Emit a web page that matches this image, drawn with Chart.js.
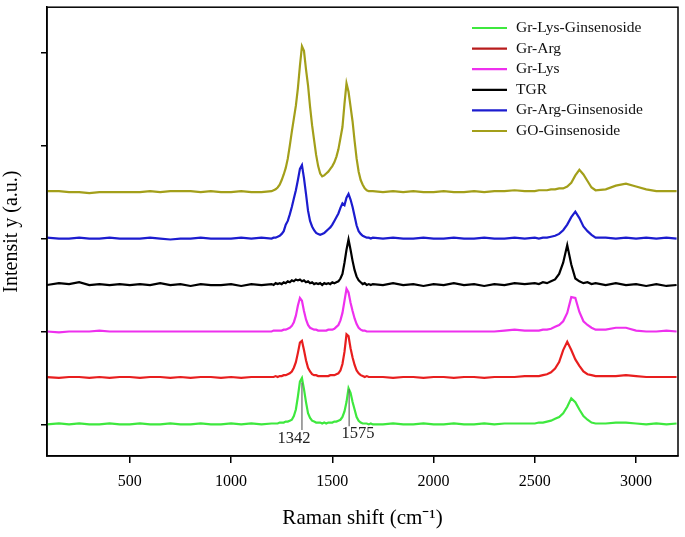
<!DOCTYPE html>
<html>
<head>
<meta charset="utf-8">
<script src="https://cdn.jsdelivr.net/npm/chart.js@4.4.1/dist/chart.umd.min.js"></script>
<style>
  html, body { margin: 0; padding: 0; background: #fff; }
  #ramanChart { display: block; }
</style>
</head>
<body>
<canvas id="ramanChart" width="685" height="537"></canvas>
<script>
// Raman shift sample positions (cm-1)
const shifts = [
  90, 150, 200, 250, 300, 350, 400, 450, 500, 550, 600, 650, 700, 750, 800, 850, 900, 950, 1000, 1050, 1100, 1150,
  1200, 1210, 1220, 1230, 1240, 1250, 1260, 1270, 1280, 1290, 1300, 1310, 1320, 1330, 1340, 1350, 1360, 1370, 1380, 1390,
  1400, 1410, 1420, 1430, 1440, 1450, 1460, 1470, 1480, 1490, 1500, 1510, 1520, 1530, 1540, 1550, 1560, 1570, 1580, 1590,
  1600, 1610, 1620, 1630, 1640, 1650, 1660, 1670, 1680, 1690, 1700,
  1750, 1800, 1850, 1900, 1950, 2000, 2050, 2100, 2150, 2200, 2250, 2300, 2350, 2400, 2450,
  2500, 2520, 2540, 2560, 2580, 2600, 2620, 2640, 2660, 2680, 2700, 2720, 2740, 2760, 2780, 2800,
  2850, 2900, 2950, 3000, 3050, 3100, 3150, 3200
];

const seriesNames = ["Gr-Lys-Ginsenoside", "Gr-Arg", "Gr-Lys", "TGR", "Gr-Arg-Ginsenoside", "GO-Ginsenoside"];

// vertical stacking offset of each spectrum (a.u.)
const offsets = [0, 0.5, 1.0, 1.5, 2.0, 2.5];

const grLysGinsenoside = [
  0.00, 0.01, 0.00, 0.01, 0.00, 0.00, 0.01, 0.00, 0.00, 0.01, 0.00, 0.00, 0.01, 0.00, 0.00, 0.01, 0.00, 0.00, 0.01, 0.00, 0.01, 0.00,
  0.01, 0.01, 0.01, 0.01, 0.02, 0.02, 0.02, 0.03, 0.03, 0.04, 0.05, 0.09, 0.16, 0.30, 0.46, 0.50, 0.38, 0.24, 0.12, 0.07,
  0.04, 0.03, 0.02, 0.02, 0.02, 0.01, 0.02, 0.01, 0.02, 0.02, 0.02, 0.03, 0.03, 0.04, 0.05, 0.08, 0.14, 0.24, 0.39, 0.34,
  0.24, 0.16, 0.08, 0.04, 0.02, 0.01, 0.01, 0.01, 0.00, 0.01, 0.00,
  0.00, 0.01, 0.00, 0.00, 0.01, 0.00, 0.00, 0.01, 0.00, 0.00, 0.01, 0.00, 0.01, 0.01, 0.01,
  0.01, 0.02, 0.02, 0.03, 0.04, 0.06, 0.08, 0.12, 0.19, 0.28, 0.24, 0.16, 0.09, 0.05, 0.02, 0.01,
  0.01, 0.02, 0.02, 0.01, 0.00, 0.01, 0.00, 0.01
];

const grArg = [
  0.01, 0.00, 0.01, 0.01, 0.00, 0.01, 0.00, 0.01, 0.01, 0.00, 0.01, 0.01, 0.00, 0.01, 0.00, 0.01, 0.01, 0.00, 0.01, 0.00, 0.01, 0.01,
  0.01, 0.01, 0.02, 0.01, 0.02, 0.02, 0.03, 0.03, 0.04, 0.05, 0.07, 0.11, 0.17, 0.27, 0.38, 0.40, 0.30, 0.19, 0.11, 0.07,
  0.04, 0.03, 0.03, 0.02, 0.02, 0.02, 0.02, 0.02, 0.02, 0.03, 0.03, 0.03, 0.04, 0.05, 0.08, 0.15, 0.28, 0.47, 0.45, 0.32,
  0.22, 0.14, 0.08, 0.05, 0.03, 0.02, 0.01, 0.02, 0.01, 0.01, 0.01,
  0.01, 0.00, 0.01, 0.01, 0.00, 0.01, 0.01, 0.00, 0.01, 0.01, 0.00, 0.01, 0.01, 0.01, 0.02,
  0.02, 0.02, 0.03, 0.04, 0.06, 0.10, 0.17, 0.30, 0.39, 0.30, 0.20, 0.13, 0.07, 0.04, 0.03, 0.02,
  0.02, 0.02, 0.03, 0.02, 0.01, 0.01, 0.01, 0.01
];

const grLys = [
  0.00, -0.01, 0.00, 0.00, 0.00, 0.01, 0.00, 0.00, 0.00, 0.00, 0.00, 0.00, 0.00, 0.00, 0.00, 0.00, 0.00, 0.00, 0.00, 0.00, 0.00, 0.00,
  0.00, 0.01, 0.01, 0.01, 0.01, 0.01, 0.02, 0.02, 0.03, 0.04, 0.06, 0.10, 0.17, 0.28, 0.36, 0.33, 0.22, 0.13, 0.07, 0.04,
  0.03, 0.02, 0.02, 0.01, 0.01, 0.01, 0.01, 0.01, 0.02, 0.02, 0.02, 0.03, 0.05, 0.07, 0.12, 0.20, 0.33, 0.46, 0.42, 0.31,
  0.22, 0.14, 0.08, 0.04, 0.02, 0.01, 0.01, 0.00, 0.00, 0.00, 0.00,
  0.00, 0.00, 0.00, 0.00, 0.00, 0.00, 0.00, 0.00, 0.00, 0.00, 0.00, 0.00, 0.01, 0.02, 0.01,
  0.01, 0.01, 0.02, 0.02, 0.03, 0.05, 0.07, 0.11, 0.20, 0.37, 0.36, 0.21, 0.11, 0.07, 0.04, 0.02,
  0.02, 0.04, 0.04, 0.01, 0.00, 0.00, 0.01, 0.00
];

const tgr = [
  0.00, 0.02, 0.01, 0.03, 0.00, 0.01, 0.00, 0.01, 0.00, 0.01, 0.00, 0.02, 0.00, 0.01, -0.01, 0.01, 0.00, 0.00, 0.01, -0.01, 0.01, 0.00,
  0.01, 0.00, 0.02, 0.01, 0.02, 0.01, 0.03, 0.02, 0.04, 0.03, 0.05, 0.04, 0.06, 0.05, 0.06, 0.04, 0.05, 0.03, 0.04, 0.02,
  0.03, 0.01, 0.02, 0.01, 0.02, 0.00, 0.02, 0.01, 0.02, 0.01, 0.03, 0.02, 0.03, 0.04, 0.07, 0.12, 0.24, 0.38, 0.49, 0.38,
  0.26, 0.16, 0.09, 0.05, 0.03, 0.01, 0.02, 0.00, 0.01, 0.00, 0.01,
  0.00, 0.02, 0.00, 0.01, -0.01, 0.01, 0.00, 0.02, 0.00, 0.01, -0.01, 0.01, 0.00, 0.02, 0.01,
  0.02, 0.01, 0.03, 0.02, 0.04, 0.06, 0.12, 0.24, 0.43, 0.22, 0.07, 0.04, 0.02, 0.03, 0.01, 0.02,
  0.00, 0.02, 0.00, 0.01, -0.01, 0.01, -0.01, 0.00
];

const grArgGinsenoside = [
  0.01, 0.00, 0.00, 0.01, 0.00, 0.00, 0.01, 0.00, 0.00, 0.00, 0.01, 0.00, -0.01, 0.00, 0.00, 0.01, 0.00, 0.00, 0.00, 0.01, 0.00, 0.01,
  0.00, 0.01, 0.01, 0.02, 0.03, 0.05, 0.08, 0.15, 0.19, 0.26, 0.34, 0.43, 0.52, 0.63, 0.75, 0.79, 0.65, 0.48, 0.30, 0.19,
  0.13, 0.09, 0.06, 0.05, 0.04, 0.05, 0.06, 0.08, 0.10, 0.12, 0.15, 0.19, 0.23, 0.27, 0.33, 0.38, 0.36, 0.44, 0.48, 0.42,
  0.34, 0.24, 0.14, 0.08, 0.05, 0.03, 0.02, 0.01, 0.01, 0.00, 0.01,
  0.00, 0.01, 0.00, 0.00, 0.01, 0.00, 0.00, 0.01, 0.00, 0.00, 0.01, 0.00, 0.00, 0.01, 0.00,
  0.01, 0.00, 0.01, 0.01, 0.02, 0.03, 0.05, 0.09, 0.15, 0.23, 0.29, 0.22, 0.13, 0.08, 0.04, 0.01,
  0.01, 0.00, 0.01, 0.00, 0.01, 0.00, 0.01, 0.00
];

const goGinsenoside = [
  0.01, 0.01, 0.00, 0.00, -0.01, 0.00, 0.00, 0.00, 0.00, 0.00, 0.01, 0.00, 0.01, 0.01, 0.01, 0.00, 0.01, 0.00, 0.00, 0.01, 0.00, 0.00,
  0.01, 0.02, 0.03, 0.05, 0.08, 0.13, 0.19, 0.26, 0.36, 0.50, 0.65, 0.79, 0.93, 1.12, 1.36, 1.57, 1.52, 1.32, 1.15, 0.92,
  0.72, 0.56, 0.40, 0.28, 0.20, 0.17, 0.18, 0.20, 0.22, 0.25, 0.28, 0.32, 0.38, 0.46, 0.58, 0.70, 0.95, 1.17, 1.08, 0.92,
  0.76, 0.55, 0.36, 0.22, 0.13, 0.08, 0.04, 0.02, 0.01, 0.01, 0.01,
  0.00, 0.01, 0.00, 0.01, 0.00, 0.00, 0.01, 0.00, 0.00, 0.01, 0.00, 0.01, 0.01, 0.02, 0.01,
  0.01, 0.02, 0.02, 0.02, 0.03, 0.03, 0.04, 0.04, 0.06, 0.10, 0.18, 0.24, 0.19, 0.12, 0.05, 0.02,
  0.03, 0.07, 0.09, 0.06, 0.03, 0.01, 0.01, 0.01
];

const spectra = [grLysGinsenoside, grArg, grLys, tgr, grArgGinsenoside, goGinsenoside];

const xTicks = [500, 1000, 1500, 2000, 2500, 3000];
const yTicks = [0, 1, 2, 3, 4];

const peakLabels = ["1342", "1575"];

const lineColors = ["#3ee83e", "#e81e1e", "#ee30ee", "#000000", "#1c1ccf", "#a39f1a"];
const keyColors = ["#3ee83e", "#b81c1c", "#ee30ee", "#000000", "#1c1ccf", "#a39f1a"];
const SERIF = "'Liberation Serif', 'Times New Roman', serif";

function buildDatasets() {
  return spectra.map((values, k) => ({
    label: seriesNames[k],
    data: shifts.map((s, i) => ({ x: s, y: values[i] + offsets[k] })),
    borderColor: lineColors[k],
    borderWidth: 2.2,
    pointRadius: 0,
    tension: 0,
    fill: false
  }));
}

// frame, legend in the top right corner, peak markers on the bottom spectrum
const decorations = {
  id: "decorations",
  afterDraw(chart) {
    const { ctx, chartArea } = chart;
    const xs = chart.scales.x;
    const ys = chart.scales.y;
    ctx.save();

    ctx.strokeStyle = "#000";
    ctx.lineWidth = 1.5;
    ctx.strokeRect(chartArea.left, chartArea.top, chartArea.right - chartArea.left, chartArea.bottom - chartArea.top);

    ctx.font = "15.5px " + SERIF;
    ctx.textBaseline = "middle";
    ctx.textAlign = "left";
    seriesNames.forEach((name, k) => {
      const y = 28 + k * 20.6;
      ctx.strokeStyle = keyColors[k];
      ctx.lineWidth = 2.2;
      ctx.beginPath();
      ctx.moveTo(472, y);
      ctx.lineTo(507, y);
      ctx.stroke();
      ctx.fillStyle = "#111";
      ctx.fillText(name, 516, y);
    });

    // peak positions marked on Gr-Lys-Ginsenoside
    const marks = [
      { line: 1350, top: 0.45, bottom: -0.06, text: 1311, textY: -0.15 },
      { line: 1583, top: 0.38, bottom: -0.02, text: 1627, textY: -0.10 }
    ];
    ctx.strokeStyle = "#666";
    ctx.lineWidth = 1.2;
    ctx.fillStyle = "#222";
    ctx.textAlign = "center";
    ctx.font = "16.5px " + SERIF;
    marks.forEach((m, i) => {
      const px = xs.getPixelForValue(m.line);
      ctx.beginPath();
      ctx.moveTo(px, ys.getPixelForValue(m.top));
      ctx.lineTo(px, ys.getPixelForValue(m.bottom));
      ctx.stroke();
      ctx.fillText(peakLabels[i], xs.getPixelForValue(m.text), ys.getPixelForValue(m.textY));
    });

    ctx.restore();
  }
};

window.addEventListener("DOMContentLoaded", () => {
  new Chart(document.getElementById("ramanChart"), {
    type: "line",
    data: { datasets: buildDatasets() },
    options: {
      responsive: false,
      animation: false,
      devicePixelRatio: 1,
      layout: { padding: { top: 4, right: 7, left: 0, bottom: 0 } },
      plugins: {
        legend: { display: false },
        tooltip: { enabled: false }
      },
      scales: {
        x: {
          type: "linear",
          min: 91,
          max: 3207,
          afterBuildTicks: (scale) => { scale.ticks = xTicks.map(v => ({ value: v })); },
          afterFit: (scale) => { scale.height = 81; },
          ticks: {
            color: "#000",
            font: { size: 16, family: SERIF },
            padding: 9,
            maxRotation: 0,
            callback: (v) => String(v)
          },
          grid: { drawOnChartArea: false, drawTicks: true, tickLength: 7, color: "#000", lineWidth: 1.5 },
          border: { display: true, color: "#000", width: 1.5 },
          title: {
            display: true,
            text: "Raman shift (cm\u207B\u00B9)",
            color: "#000",
            font: { size: 21, family: SERIF },
            padding: { top: 4, bottom: 6 }
          }
        },
        y: {
          type: "linear",
          min: -0.34,
          max: 4.49,
          afterBuildTicks: (scale) => { scale.ticks = yTicks.map(v => ({ value: v })); },
          afterFit: (scale) => { scale.width = 47; },
          ticks: { callback: () => "", padding: 0 },
          grid: { drawOnChartArea: false, drawTicks: true, tickLength: 6, color: "#000", lineWidth: 1.5 },
          border: { display: true, color: "#000", width: 1.5 },
          title: {
            display: true,
            text: "Intensit y (a.u.)",
            color: "#000",
            font: { size: 20, family: SERIF },
            padding: { top: 0, bottom: 0 }
          }
        }
      }
    },
    plugins: [decorations]
  });
});
</script>
</body>
</html>
